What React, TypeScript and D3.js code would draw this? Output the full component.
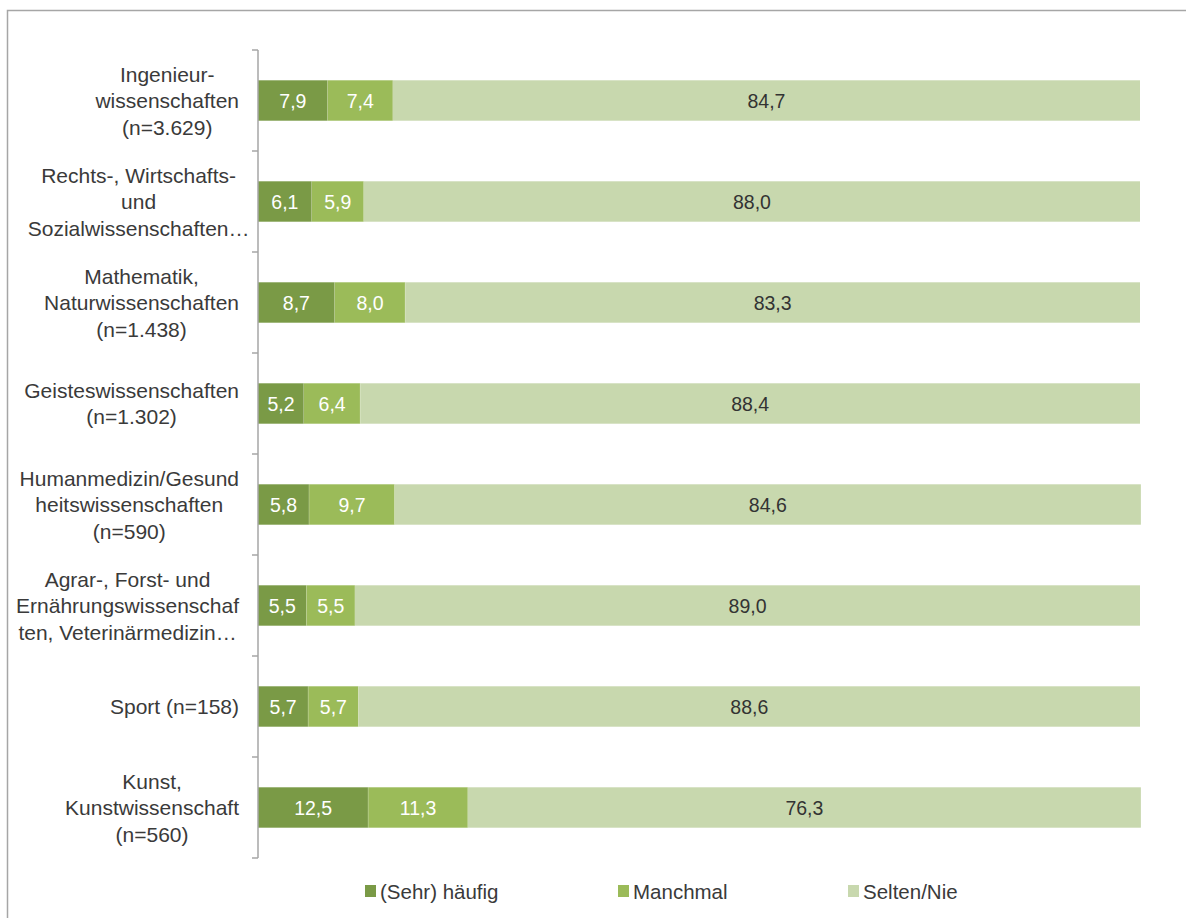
import React from "react";
import * as d3 from "d3";

const categories: string[][] = [
  ["Ingenieur-", "wissenschaften", "(n=3.629)"],
  ["Rechts-, Wirtschafts-", "und", "Sozialwissenschaften…"],
  ["Mathematik,", "Naturwissenschaften", "(n=1.438)"],
  ["Geisteswissenschaften", "(n=1.302)"],
  ["Humanmedizin/Gesund", "heitswissenschaften", "(n=590)"],
  ["Agrar-, Forst- und", "Ernährungswissenschaf", "ten, Veterinärmedizin…"],
  ["Sport (n=158)"],
  ["Kunst,", "Kunstwissenschaft", "(n=560)"],
];
const sehrHaeufig = [7.9, 6.1, 8.7, 5.2, 5.8, 5.5, 5.7, 12.5];
const manchmal = [7.4, 5.9, 8.0, 6.4, 9.7, 5.5, 5.7, 11.3];
const selten = [84.7, 88.0, 83.3, 88.4, 84.6, 89.0, 88.6, 76.3];
const seriesNames = ["(Sehr) häufig", "Manchmal", "Selten/Nie"];
const colors = ["#7a9a46", "#9bbb59", "#c8d8ae"];
const labelColors = ["#ffffff", "#ffffff", "#333333"];

let measureCtx: CanvasRenderingContext2D | null = null;
function measure(text: string, font: string): number {
  if (!measureCtx) measureCtx = document.createElement("canvas").getContext("2d");
  if (!measureCtx) return text.length * 10;
  measureCtx.font = font;
  return measureCtx.measureText(text).width;
}

export default function App() {
  const W = 1186, H = 918;
  const x0 = 258, x1 = 1140, yTop = 50, yBot = 858;
  const idx = categories.map((_, i) => String(i));
  const y = d3.scaleBand<string>().domain(idx).range([yTop, yBot]).paddingInner(0.6).paddingOuter(0.3);
  const yOuter = d3.scaleBand<string>().domain(idx).range([yTop, yBot]);
  const x = d3.scaleLinear().domain([0, 100]).range([x0, x1]);
  const series = [sehrHaeufig, manchmal, selten];
  const font = "'Liberation Sans', Arial, sans-serif";
  const catFontSize = 21;
  const fmt = (v: number) => v.toFixed(1).replace(".", ",");
  const lineH = 26.5;
  const labelRight = 239;

  const legendX = [365, 618, 848];

  return (
    <svg width={W} height={H} style={{ position: "absolute", left: 0, top: 0, display: "block" }} fontFamily={font}>
      <rect x={0} y={0} width={W} height={H} fill="#fff" />
      <rect x={7.5} y={10.5} width={W + 10} height={H + 10} fill="none" stroke="#a6a6a6" strokeWidth={1.5} />
      {categories.map((lines, i) => {
        let acc = 0;
        const yy = y(String(i))!;
        const bh = y.bandwidth();
        const cy = yy + bh / 2;
        const maxW = d3.max(lines, (l) => measure(l.replace(/…$/, ""), `${catFontSize}px 'Liberation Sans'`)) || 0;
        const cx = Math.min(labelRight - maxW / 2, 175);
        return (
          <g key={i}>
            {series.map((s, k) => {
              const v = s[i];
              const xs = x(acc);
              const xe = x(acc + v);
              acc += v;
              return (
                <g key={k}>
                  <rect x={xs} y={yy} width={xe - xs} height={bh} fill={colors[k]} />
                  {k < 2 && <line x1={xe} x2={xe} y1={yy} y2={yy + bh} stroke="#ffffff" strokeOpacity={0.35} />}
                  <text x={(xs + xe) / 2} y={cy} dy="0.36em" textAnchor="middle" fontSize={19.5} fill={labelColors[k]}>
                    {fmt(v)}
                  </text>
                </g>
              );
            })}
            {lines.map((l, j) => (
              <text key={j} x={cx} y={cy + (j - (lines.length - 1) / 2) * lineH} dy="0.36em" textAnchor="middle" fontSize={catFontSize} fill="#3a3a3a">
                {l}
              </text>
            ))}
          </g>
        );
      })}
      <line x1={x0} x2={x0} y1={yTop} y2={yBot} stroke="#a6a6a6" strokeWidth={1.5} />
      {d3.range(categories.length + 1).map((i) => {
        const ty = i < categories.length ? yOuter(String(i))! : yBot;
        return <line key={i} x1={x0 - 6} x2={x0} y1={ty} y2={ty} stroke="#a6a6a6" strokeWidth={1.5} />;
      })}
      {seriesNames.map((n, k) => (
        <g key={n}>
          <rect x={legendX[k]} y={885} width={11} height={12} fill={colors[k]} />
          <text x={legendX[k] + 15} y={891.5} dy="0.36em" fontSize={20.5} fill="#3a3a3a">
            {n}
          </text>
        </g>
      ))}
    </svg>
  );
}
